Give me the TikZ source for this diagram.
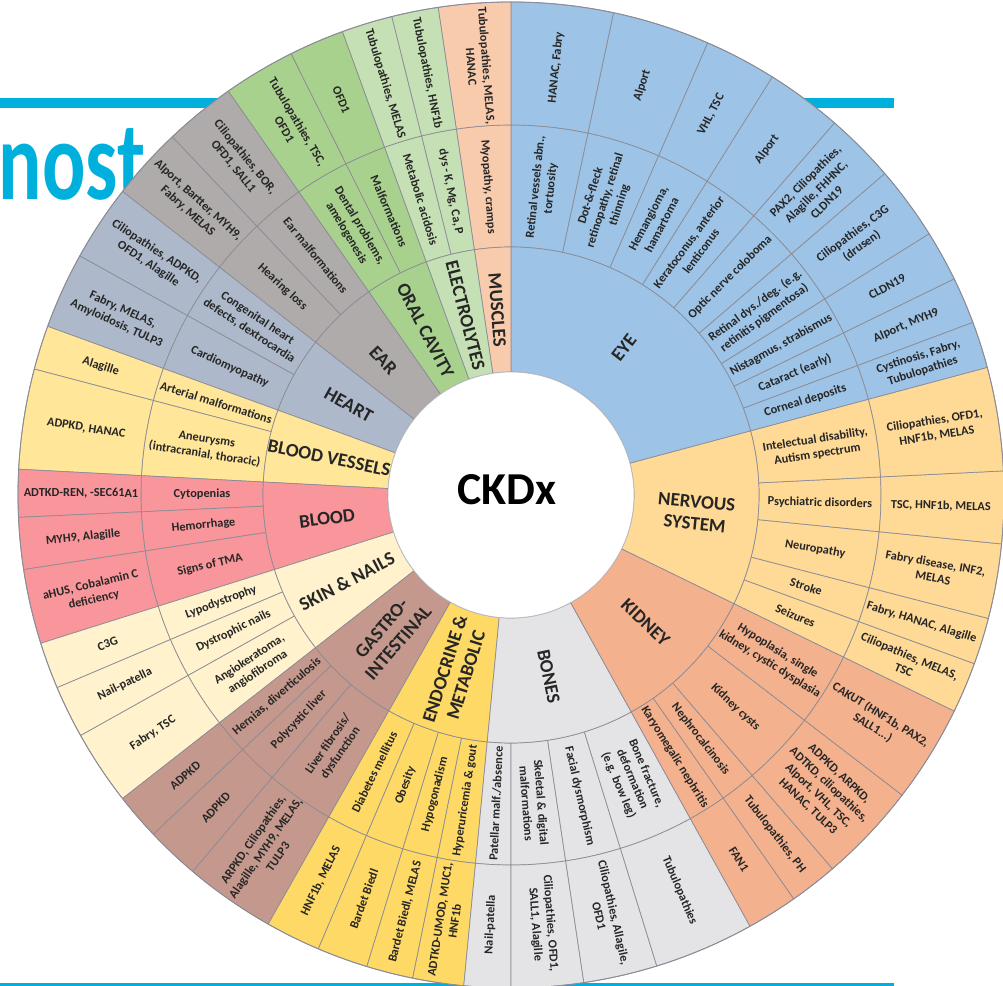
\documentclass[tikz,border=0pt]{standalone}
\usepackage{fontspec}
\setmainfont{Carlito}
\usepackage{tikz}
\usetikzlibrary{calc}
\definecolor{cvEye}{RGB}{157,195,230}
\definecolor{cvNerv}{RGB}{255,217,150}
\definecolor{cvKid}{RGB}{244,177,142}
\definecolor{cvBone}{RGB}{228,228,230}
\definecolor{cvEndo}{RGB}{255,217,102}
\definecolor{cvGut}{RGB}{196,152,140}
\definecolor{cvSkin}{RGB}{255,242,204}
\definecolor{cvBlood}{RGB}{248,150,155}
\definecolor{cvVess}{RGB}{255,230,153}
\definecolor{cvHeart}{RGB}{173,185,202}
\definecolor{cvEar}{RGB}{175,171,171}
\definecolor{cvOral}{RGB}{169,209,142}
\definecolor{cvElec}{RGB}{197,224,180}
\definecolor{cvMusc}{RGB}{248,203,173}
\definecolor{cvTitle}{RGB}{0,176,220}
\definecolor{cvLine}{RGB}{140,140,150}
% one annular slice: start angle, end angle, inner radius, outer radius, fill
\newcommand{\wedgefill}[5]{%
  \filldraw[fill=#5,wedge] (#1:#3) arc[start angle=#1,end angle=#2,radius=#3]
    -- (#2:#4) arc[start angle=#2,end angle=#1,radius=#4] -- cycle;}

\begin{document}
\begin{tikzpicture}[
  wedge/.style={draw=cvLine,line width=0.4pt},
  sub/.style={font=\fontsize{7}{8.6}\selectfont\bfseries,align=center,
              text=black!85,inner sep=1pt},
  cat/.style={font=\fontsize{10.8}{12.5}\selectfont\bfseries,align=center,
              text=black!85,inner sep=1pt},
  bar/.style={fill=cvTitle}
]
\useasboundingbox (-10.22,-9.82) rectangle (9.84,9.90);
% slide title behind the wheel
\fill[bar] (-10.22,7.74) rectangle (7.66,7.94);
\fill[bar] (-10.22,-9.82) rectangle (7.66,-9.76);
\node[anchor=base west,text=cvTitle,font=\fontsize{64}{64}\selectfont\bfseries,
      xscale=0.72,inner sep=0] (title) at (-10.25,5.9) {nost};
% middle and outer rings
\foreach \angA/\angB/\col/\txtin/\txtout [count=\i] in {
  -26/-20/cvNerv/{Seizures}/{Ciliopathies, MELAS,\\TSC},
  -20/-14.5/cvNerv/{Stroke}/{Fabry, HANAC, Alagille},
  -14.5/-5.7/cvNerv/{Neuropathy}/{Fabry disease, INF2,\\MELAS},
  -5.7/2.8/cvNerv/{Psychiatric disorders}/{TSC, HNF1b, MELAS},
  2.8/15/cvNerv/{Intelectual disability,\\Autism spectrum}/{Ciliopathies, OFD1,\\HNF1b, MELAS},
  15/20.5/cvEye/{Corneal deposits}/{Cystinosis, Fabry,\\Tubulopathies},
  20.5/26/cvEye/{Cataract (early)}/{Alport, MYH9},
  26/32/cvEye/{Nistagmus, strabismus}/{CLDN19},
  32/40.7/cvEye/{Retinal dys.\slash deg. (e.g.\\retinitis pigmentosa)}/{Ciliopathies, C3G\\(drusen)},
  40.7/49/cvEye/{Optic nerve coloboma}/{PAX2, Ciliopathies,\\Alagille, FHHNC,\\CLDN19},
  49/58/cvEye/{Keratoconus, anterior\\lenticonus}/{Alport},
  58/66.5/cvEye/{Hemangioma,\\hamartoma}/{VHL, TSC},
  66.5/78/cvEye/{Dot-\&-fleck\\retinopathy, retinal\\thinning}/{Alport},
  78/90/cvEye/{Retinal vessels abn.,\\tortuosity}/{HANAC, Fabry},
  90/98.5/cvMusc/{Myopathy, cramps}/{Tubulopathies, MELAS,\\HANAC},
  98.5/104/cvElec/{dys - K, Mg, Ca, P}/{Tubulopathies, HNF1b},
  104/110/cvElec/{Metabolic acidosis}/{Tubulopathies, MELAS},
  110/116.5/cvOral/{Malformations}/{OFD1},
  116.5/125/cvOral/{Dental problems,\\amelogenesis}/{Tubulopathies, TSC,\\OFD1},
  125/133.4/cvEar/{Ear malformations}/{Ciliopathies, BOR,\\OFD1, SALL1},
  133.4/142/cvEar/{Hearing loss}/{Alport, Bartter, MYH9,\\Fabry, MELAS},
  142/151/cvHeart/{Congenital heart\\defects, dextrocardia}/{Ciliopathies, ADPKD,\\OFD1, Alagille},
  151/160/cvHeart/{Cardiomyopathy}/{Fabry, MELAS,\\Amyloidosis, TULP3},
  160/165.2/cvVess/{Arterial malformations}/{Alagille},
  165.2/177/cvVess/{Aneurysms\\(intracranial, thoracic)}/{ADPKD, HANAC},
  177/182.6/cvBlood/{Cytopenias}/{ADTKD-REN, -SEC61A1},
  182.6/188.7/cvBlood/{Hemorrhage}/{MYH9, Alagille},
  188.7/197.5/cvBlood/{Signs of TMA}/{aHUS, Cobalamin C\\deficiency},
  197.5/203/cvSkin/{Lypodystrophy}/{C3G},
  203/209.2/cvSkin/{Dystrophic nails}/{Nail-patella},
  209.2/218/cvSkin/{Angiokeratoma,\\angiofibroma}/{Fabry, TSC},
  218/223.5/cvGut/{Hernias, diverticulosis}/{ADPKD},
  223.5/229.8/cvGut/{Polycystic liver}/{ADPKD},
  229.8/240.5/cvGut/{Liver fibrosis\slash\\dysfunction}/{ARPKD, Ciliopathies,\\Alagille, MYH9, MELAS,\\TULP3},
  240.5/247/cvEndo/{Diabetes mellitus}/{HNF1b, MELAS},
  247/253/cvEndo/{Obesity}/{Bardet Biedl},
  253/258.5/cvEndo/{Hypogonadism}/{Bardet Biedl, MELAS},
  258.5/264.5/cvEndo/{Hyperuricemia \& gout}/{ADTKD-UMOD, MUC1,\\HNF1b},
  264.5/270/cvBone/{Patellar malf.\slash absence}/{Nail-patella},
  270/278.5/cvBone/{Skeletal \& digital\\malformations}/{Ciliopathies, OFD1,\\SALL1, Alagille},
  278.5/287.2/cvBone/{Facial dysmorphism}/{Ciliopathies, Allagile,\\OFD1},
  287.2/299/cvBone/{Bone fracture,\\deformation\\(e.g. bow leg)}/{Tubulopathies},
  299/305/cvKid/{Karyomegalic nephritis}/{FAN1},
  305/310.7/cvKid/{Nephrocalcinosis}/{Tubulopathies, PH},
  310.7/322.5/cvKid/{Kidney cysts}/{ADPKD, ARPKD,\\ADTKD, ciliopathies,\\Alport, VHL, TSC,\\HANAC, TULP3},
  322.5/334/cvKid/{Hypoplasia, single\\kidney, cystic dysplasia}/{CAKUT (HNF1b, PAX2,\\SALL1...)}}{
  \pgfmathsetmacro\m{0.5*(\angA)+0.5*(\angB)}
  \pgfmathsetmacro\rot{ifthenelse(and(\m>90,\m<270),\m-180,\m)}
  \wedgefill{\angA}{\angB}{4.96}{7.40}{\col}
  \wedgefill{\angA}{\angB}{7.40}{9.86}{\col}
  \node[sub,rotate=\rot] (mid\i) at (\m:6.18) {\txtin};
  \node[sub,rotate=\rot] (out\i) at (\m:8.6) {\txtout};
}
% organ ring
\foreach \angA/\angB/\col/\txt [count=\i] in {
  -26/15/cvNerv/{NERVOUS\\SYSTEM},
  15/90/cvEye/{EYE},
  90/98.5/cvMusc/{MUSCLES},
  98.5/110/cvElec/{ELECTROLYTES},
  110/125/cvOral/{ORAL CAVITY},
  125/142/cvEar/{EAR},
  142/160/cvHeart/{HEART},
  160/177/cvVess/{BLOOD VESSELS},
  177/197.5/cvBlood/{BLOOD},
  197.5/218/cvSkin/{SKIN \& NAILS},
  218/240.5/cvGut/{GASTRO-\\INTESTINAL},
  240.5/264.5/cvEndo/{ENDOCRINE \&\\METABOLIC},
  264.5/299/cvBone/{BONES},
  299/334/cvKid/{KIDNEY}}{
  \pgfmathsetmacro\m{0.5*(\angA)+0.5*(\angB)}
  \pgfmathsetmacro\rot{ifthenelse(and(\m>90,\m<270),\m-180,\m)}
  \wedgefill{\angA}{\angB}{2.46}{4.96}{\col}
  \node[cat,rotate=\rot] (organ\i) at (\m:3.71) {\txt};
}
\draw[cvLine,line width=0.5pt] (0,0) circle (9.86);
\filldraw[fill=white,draw=cvLine!60] (0,0) circle (2.46);
\node[font=\fontsize{26}{26}\selectfont\bfseries] (ckdx) at (-0.08,0.1) {CKDx};
\end{tikzpicture}
\end{document}
